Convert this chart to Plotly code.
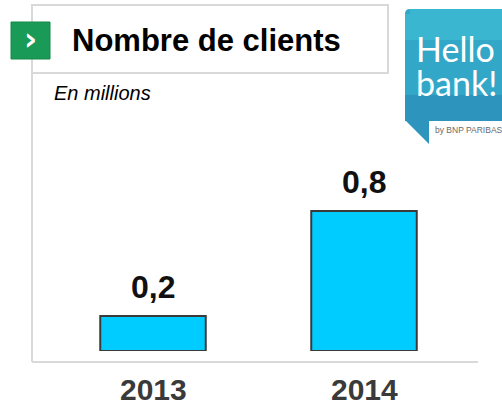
import plotly.graph_objects as go

years = ["2013", "2014"]
clients = [0.2, 0.8]
value_labels = ["0,2", "0,8"]

W, H = 502, 403

def px(x):
    return x / W

def py(y):
    return 1 - y / H

fig = go.Figure()
fig.add_trace(go.Bar(
    x=years, y=clients, width=0.5,
    marker=dict(color="#00CCFF", line=dict(color="#3a3a3a", width=2)),
    hoverinfo="skip",
))

annotations = []
for i, (yr, v, lab) in enumerate(zip(years, clients, value_labels)):
    annotations.append(dict(x=i, y=v, xref="x", yref="y", text="<b>%s</b>" % lab,
                            showarrow=False, yanchor="bottom", yshift=9,
                            font=dict(family="Liberation Sans Narrow, Arial Narrow, Liberation Sans, Arial",
                                      size=32, color="#111111")))
    annotations.append(dict(x=i, y=0, xref="x", yref="y", text="<b>%s</b>" % yr,
                            showarrow=False, yanchor="top", yshift=-20,
                            font=dict(family="Liberation Sans, Arial", size=30, color="#3a3a3a")))

# title, subtitle, chevron, logo text
annotations += [
    dict(x=px(70), y=py(41), xref="paper", yref="paper", text="<b>Nombre de clients</b>",
         showarrow=False, xanchor="left", yanchor="middle",
         font=dict(family="Liberation Sans, Arial", size=31, color="#000000")),
    dict(x=px(52), y=py(93), xref="paper", yref="paper", text="<i>En millions</i>",
         showarrow=False, xanchor="left", yanchor="middle",
         font=dict(family="Liberation Sans, Arial", size=20, color="#000000")),
    dict(x=px(30), y=py(39), xref="paper", yref="paper", text="<b>›</b>",
         showarrow=False, xanchor="center", yanchor="middle",
         font=dict(family="DejaVu Sans, Arial", size=32, color="#ffffff")),
    dict(x=px(414), y=py(48), xref="paper", yref="paper", text="Hello",
         showarrow=False, xanchor="left", yanchor="middle",
         font=dict(family="Lato, Open Sans, Arial", size=34, color="#ffffff")),
    dict(x=px(414), y=py(82), xref="paper", yref="paper", text="bank!",
         showarrow=False, xanchor="left", yanchor="middle",
         font=dict(family="Lato, Open Sans, Arial", size=34, color="#ffffff")),
    dict(x=px(433), y=py(130), xref="paper", yref="paper", text="by BNP PARIBAS",
         showarrow=False, xanchor="left", yanchor="middle",
         font=dict(family="Liberation Sans, Arial", size=8.5, color="#6a6a6a")),
]

grey = "#d9d9d9"
shapes = [
    # frame
    dict(type="line", xref="paper", yref="paper", x0=px(32), x1=px(32), y0=py(5), y1=py(362),
         line=dict(color=grey, width=2)),
    dict(type="line", xref="paper", yref="paper", x0=px(32), x1=px(478), y0=py(362), y1=py(362),
         line=dict(color=grey, width=2)),
    dict(type="rect", xref="paper", yref="paper", x0=px(32), x1=px(388), y0=py(5), y1=py(73),
         line=dict(color=grey, width=2), fillcolor="rgba(0,0,0,0)"),
    # green chevron square
    dict(type="rect", xref="paper", yref="paper", x0=px(11), x1=px(50), y0=py(22), y1=py(59),
         line=dict(color="#128a48", width=1), fillcolor="#1a9a57", layer="above"),
]

# logo bubble
r = 5
x0, x1, y0, y1 = 405, 512, 9, 121
path = (f"M {px(x0)},{py(y0 + r)} Q {px(x0)},{py(y0)} {px(x0 + r)},{py(y0)} "
        f"L {px(x1)},{py(y0)} L {px(x1)},{py(y1)} L {px(x0)},{py(y1)} Z")
shapes.append(dict(type="path", xref="paper", yref="paper", path=path,
                   fillcolor="#33a7c8", line=dict(width=0), layer="below"))
shapes.append(dict(type="rect", xref="paper", yref="paper", x0=px(x0), x1=px(x1), y0=py(9 + r), y1=py(40),
                   fillcolor="#3bb6d1", line=dict(width=0), layer="below"))
shapes.append(dict(type="rect", xref="paper", yref="paper", x0=px(x0 + r), x1=px(x1), y0=py(9), y1=py(9 + r),
                   fillcolor="#3bb6d1", line=dict(width=0), layer="below"))
shapes.append(dict(type="rect", xref="paper", yref="paper", x0=px(x0), x1=px(x1), y0=py(95), y1=py(121),
                   fillcolor="#2c94bd", line=dict(width=0), layer="below"))
tail = f"M {px(405)},{py(120)} L {px(429)},{py(120)} L {px(429)},{py(144)} Z"
shapes.append(dict(type="path", xref="paper", yref="paper", path=tail,
                   fillcolor="#2c94bd", line=dict(width=0), layer="below"))

fig.update_layout(
    width=W, height=H,
    margin=dict(l=0, r=0, t=0, b=0),
    paper_bgcolor="#ffffff", plot_bgcolor="rgba(0,0,0,0)",
    showlegend=False,
    xaxis=dict(type="category", domain=[47.5 / W, 469.5 / W], range=[-0.5, 1.5], showticklabels=False,
               showgrid=False, zeroline=False, showline=False, ticks="", fixedrange=True),
    yaxis=dict(domain=[(H - 351) / H, (H - 176) / H], range=[0, 1], showticklabels=False,
               showgrid=False, zeroline=False, showline=False, ticks="", fixedrange=True),
    annotations=annotations,
    shapes=shapes,
)

fig.write_html("out.html", post_script="document.body.style.margin='0';",
               config={"displayModeBar": False})
